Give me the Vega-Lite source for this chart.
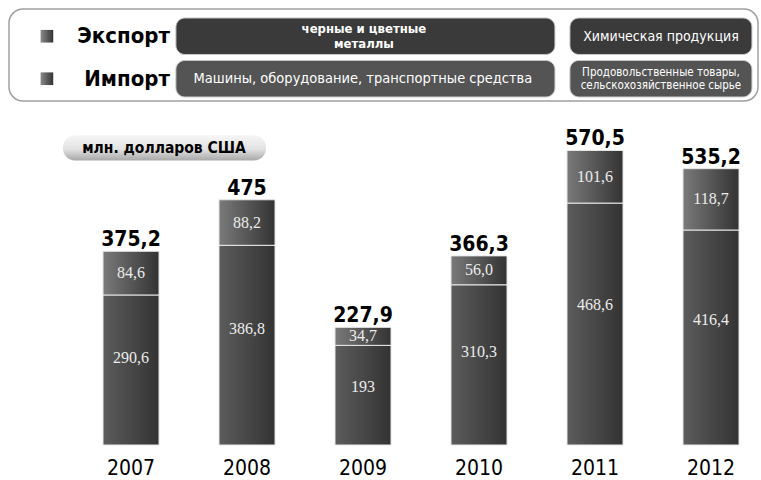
{
  "$schema": "https://vega.github.io/schema/vega-lite/v6.json",
  "padding": {"left": 8, "top": 8, "right": 4, "bottom": 0},
  "background": "white",
  "config": {"view": {"stroke": null}, "concat": {"spacing": 10}},
  "datasets": {
    "trade": [
      {"year": "2007", "export": 290.6, "import": 84.6, "total": 375.2, "exportLabel": "290,6", "importLabel": "84,6", "totalLabel": "375,2"},
      {"year": "2008", "export": 386.8, "import": 88.2, "total": 475, "exportLabel": "386,8", "importLabel": "88,2", "totalLabel": "475"},
      {"year": "2009", "export": 193, "import": 34.7, "total": 227.9, "exportLabel": "193", "importLabel": "34,7", "totalLabel": "227,9"},
      {"year": "2010", "export": 310.3, "import": 56.0, "total": 366.3, "exportLabel": "310,3", "importLabel": "56,0", "totalLabel": "366,3"},
      {"year": "2011", "export": 468.6, "import": 101.6, "total": 570.5, "exportLabel": "468,6", "importLabel": "101,6", "totalLabel": "570,5"},
      {"year": "2012", "export": 416.4, "import": 118.7, "total": 535.2, "exportLabel": "416,4", "importLabel": "118,7", "totalLabel": "535,2"}
    ],
    "legend": [
      {"row": "Экспорт", "from": "A", "to": "B", "kind": "wide", "text": "черные  и цветные\nметаллы"},
      {"row": "Экспорт", "from": "C", "to": "C", "kind": "narrow", "text": "Химическая продукция"},
      {"row": "Импорт", "from": "A", "to": "B", "kind": "wide", "text": "Машины, оборудование, транспортные средства"},
      {"row": "Импорт", "from": "C", "to": "C", "kind": "narrow", "text": "Продовольственные товары,\nсельскохозяйственное сырье"}
    ]
  },
  "vconcat": [
    {
      "width": 749,
      "height": 92,
      "view": {"stroke": "#a0a0a0", "strokeWidth": 1.5, "cornerRadius": 14, "fill": "white"},
      "data": {"name": "legend"},
      "layer": [
        {
          "mark": {"type": "rect", "cornerRadius": 9, "stroke": "#c8c8c8", "strokeWidth": 1},
          "encoding": {
            "x": {"field": "from", "type": "nominal", "bandPosition": 0, "scale": {"domain": ["A", "B", "C"], "paddingInner": 0.0761, "paddingOuter": 0.439, "align": 0.965}, "axis": null},
            "x2": {"field": "to", "bandPosition": 1},
            "y": {"field": "row", "type": "nominal", "sort": ["Экспорт", "Импорт"], "scale": {"domain": ["Экспорт", "Импорт"], "paddingInner": 0.141, "paddingOuter": 0.153, "align": 0.69}, "axis": null},
            "fill": {"field": "row", "type": "nominal", "scale": {"domain": ["Экспорт", "Импорт"], "range": ["#3a3a3a", "#545454"]}, "legend": null}
          }
        },
        {
          "transform": [{"filter": "datum.kind == 'wide' && datum.row == 'Экспорт'"}],
          "mark": {"type": "text", "color": "white", "font": "DejaVu Sans Condensed, Roboto, sans-serif", "fontSize": 13, "fontWeight": "bold", "lineBreak": "\n", "lineHeight": 15, "align": "center", "baseline": "middle", "dx": -9, "dy": -7},
          "encoding": {
            "x": {"field": "to", "type": "nominal", "bandPosition": 0},
            "y": {"field": "row", "type": "nominal"},
            "text": {"field": "text"}
          }
        },
        {
          "transform": [{"filter": "datum.kind == 'wide' && datum.row == 'Импорт'"}],
          "mark": {"type": "text", "color": "white", "font": "DejaVu Sans Condensed, Roboto, sans-serif", "fontSize": 14.5, "align": "center", "baseline": "middle", "dx": -10},
          "encoding": {
            "x": {"field": "to", "type": "nominal", "bandPosition": 0},
            "y": {"field": "row", "type": "nominal"},
            "text": {"field": "text"}
          }
        },
        {
          "transform": [{"filter": "datum.kind == 'narrow' && datum.row == 'Экспорт'"}],
          "mark": {"type": "text", "color": "white", "font": "DejaVu Sans Condensed, Roboto, sans-serif", "fontSize": 14, "align": "center", "baseline": "middle", "dy": 1},
          "encoding": {
            "x": {"field": "from", "type": "nominal", "bandPosition": 0.5},
            "y": {"field": "row", "type": "nominal"},
            "text": {"field": "text"}
          }
        },
        {
          "transform": [{"filter": "datum.kind == 'narrow' && datum.row == 'Импорт'"}],
          "mark": {"type": "text", "color": "white", "font": "DejaVu Sans Condensed, Roboto, sans-serif", "fontSize": 11.5, "lineBreak": "\n", "lineHeight": 13, "align": "center", "baseline": "middle", "dy": -6},
          "encoding": {
            "x": {"field": "from", "type": "nominal", "bandPosition": 0.5},
            "y": {"field": "row", "type": "nominal"},
            "text": {"field": "text"}
          }
        },
        {
          "transform": [{"filter": "datum.kind == 'wide'"}],
          "mark": {"type": "text", "color": "black", "font": "DejaVu Sans Condensed, Roboto, sans-serif", "fontSize": 22, "fontWeight": "bold", "align": "right", "baseline": "middle", "dx": -6},
          "encoding": {
            "x": {"field": "from", "type": "nominal", "bandPosition": 0},
            "y": {"field": "row", "type": "nominal"},
            "text": {"field": "row"}
          }
        },
        {
          "transform": [{"filter": "datum.kind == 'wide'"}],
          "mark": {"type": "point", "shape": "square", "filled": true, "size": 160, "opacity": 1, "xOffset": -129,
            "fill": {"gradient": "linear", "x1": 0, "y1": 0, "x2": 1, "y2": 0, "stops": [{"offset": 0, "color": "#8a8a8a"}, {"offset": 1, "color": "#333333"}]}},
          "encoding": {
            "x": {"field": "from", "type": "nominal", "bandPosition": 0},
            "y": {"field": "row", "type": "nominal"}
          }
        }
      ]
    },
    {
      "width": 749,
      "height": 333,
      "layer": [
        {
          "data": {"name": "trade"},
          "mark": {"type": "bar", "stroke": "#e8e8e8", "strokeWidth": 1,
            "fill": {"gradient": "linear", "x1": 0, "y1": 0, "x2": 1, "y2": 0, "stops": [{"offset": 0, "color": "#5c5c5c"}, {"offset": 1, "color": "#333333"}]}},
          "encoding": {
            "x": {"field": "year", "type": "nominal", "scale": {"paddingInner": 0.517, "paddingOuter": 0.487, "align": 0.832},
              "axis": {"title": null, "domain": false, "ticks": false, "labelAngle": 0, "labelFontSize": 21, "labelFont": "DejaVu Sans Condensed, Roboto, sans-serif", "labelColor": "#000000", "labelPadding": 12}},
            "y": {"field": "export", "type": "quantitative", "scale": {"domain": [0, 645], "nice": false}, "axis": null}
          }
        },
        {
          "data": {"name": "trade"},
          "mark": {"type": "bar", "stroke": "#e8e8e8", "strokeWidth": 1,
            "fill": {"gradient": "linear", "x1": 0, "y1": 0, "x2": 1, "y2": 0, "stops": [{"offset": 0, "color": "#7a7a7a"}, {"offset": 1, "color": "#333333"}]}},
          "encoding": {
            "x": {"field": "year", "type": "nominal"},
            "y": {"field": "export", "type": "quantitative"},
            "y2": {"field": "total"}
          }
        },
        {
          "data": {"name": "trade"},
          "transform": [{"calculate": "datum.export * 0.58", "as": "exportPos"}],
          "mark": {"type": "text", "font": "Liberation Serif", "fontSize": 16, "color": "#ececec", "baseline": "middle"},
          "encoding": {
            "x": {"field": "year", "type": "nominal"},
            "y": {"field": "exportPos", "type": "quantitative"},
            "text": {"field": "exportLabel"}
          }
        },
        {
          "data": {"name": "trade"},
          "transform": [{"calculate": "(datum.export + datum.total) / 2", "as": "importPos"}],
          "mark": {"type": "text", "font": "Liberation Serif", "fontSize": 16, "color": "#ececec", "baseline": "middle"},
          "encoding": {
            "x": {"field": "year", "type": "nominal"},
            "y": {"field": "importPos", "type": "quantitative"},
            "text": {"field": "importLabel"}
          }
        },
        {
          "data": {"name": "trade"},
          "mark": {"type": "text", "font": "DejaVu Sans Condensed, Roboto, sans-serif", "fontSize": 21, "fontWeight": "bold", "color": "#000000", "baseline": "bottom", "dy": -1},
          "encoding": {
            "x": {"field": "year", "type": "nominal"},
            "y": {"field": "total", "type": "quantitative"},
            "text": {"field": "totalLabel"}
          }
        },
        {
          "data": {"values": [{"unit": "млн. долларов США"}]},
          "mark": {"type": "rect", "cornerRadius": 12, "xOffset": -40, "x2Offset": 47,
            "fill": {"gradient": "linear", "x1": 0, "y1": 0, "x2": 0, "y2": 1, "stops": [{"offset": 0, "color": "#f6f6f6"}, {"offset": 0.55, "color": "#e2e2e2"}, {"offset": 1, "color": "#a8a8a8"}]}},
          "encoding": {
            "x": {"datum": "2007", "type": "nominal", "bandPosition": 0},
            "x2": {"datum": "2008", "bandPosition": 0},
            "y": {"datum": 600, "type": "quantitative"},
            "y2": {"datum": 551}
          }
        },
        {
          "data": {"values": [{"unit": "млн. долларов США"}]},
          "mark": {"type": "text", "font": "DejaVu Sans Condensed, Roboto, sans-serif", "fontSize": 15.5, "fontWeight": "bold", "color": "#000000", "align": "center", "baseline": "middle", "dx": 61},
          "encoding": {
            "x": {"datum": "2007", "type": "nominal", "bandPosition": 0},
            "y": {"datum": 576, "type": "quantitative"},
            "text": {"field": "unit"}
          }
        }
      ]
    }
  ]
}
